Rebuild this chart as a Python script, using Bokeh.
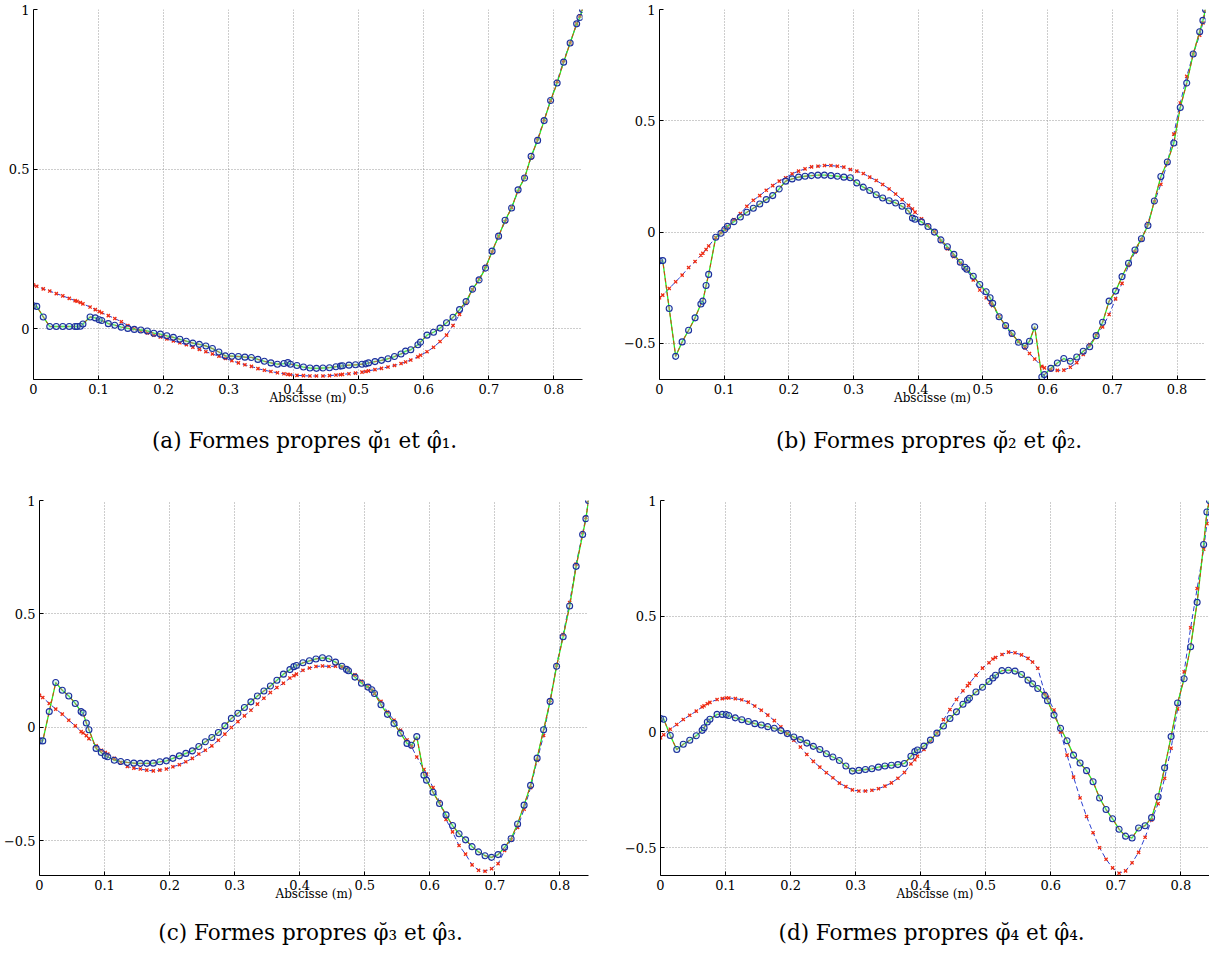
from bokeh.plotting import figure
from bokeh.layouts import column, row
from bokeh.models import FixedTicker, LinearAxis, Range1d
from bokeh.embed import file_html
from bokeh.resources import INLINE

# Shared abscissa (m)
X = [0.000, 0.005, 0.015, 0.025, 0.035, 0.045, 0.055, 0.064, 0.067, 0.072, 0.076, 0.087, 0.095, 0.101, 0.105,
     0.115, 0.125, 0.135, 0.145, 0.155, 0.165, 0.175, 0.185, 0.195, 0.205,
     0.215, 0.225, 0.235, 0.245, 0.255, 0.265, 0.275, 0.285, 0.295, 0.305,
     0.315, 0.325, 0.335, 0.345, 0.355, 0.365, 0.375, 0.385, 0.391, 0.395,
     0.405, 0.415, 0.425, 0.435, 0.445, 0.455, 0.465, 0.472, 0.475, 0.485,
     0.495, 0.505, 0.511, 0.515, 0.525, 0.535, 0.545, 0.555, 0.565, 0.572,
     0.580, 0.591, 0.595, 0.605, 0.615, 0.625, 0.635, 0.645, 0.655, 0.665,
     0.675, 0.685, 0.695, 0.705, 0.715, 0.725, 0.735, 0.745, 0.755, 0.765,
     0.775, 0.785, 0.795, 0.805, 0.815, 0.825, 0.835, 0.840, 0.844]

# (a) measured / model
MEAS_A = [0.072, 0.070, 0.037, 0.007, 0.007, 0.007, 0.007, 0.007, 0.007, 0.008, 0.015, 0.037, 0.034, 0.028, 0.026,
          0.016, 0.011, 0.005, 0.001, -0.002, -0.004, -0.007, -0.014, -0.017, -0.022,
          -0.027, -0.033, -0.039, -0.045, -0.049, -0.054, -0.062, -0.073, -0.085, -0.086,
          -0.087, -0.089, -0.090, -0.096, -0.102, -0.107, -0.111, -0.109, -0.106, -0.111,
          -0.115, -0.120, -0.123, -0.124, -0.123, -0.122, -0.119, -0.117, -0.116, -0.114,
          -0.113, -0.111, -0.110, -0.107, -0.103, -0.099, -0.094, -0.087, -0.079, -0.070,
          -0.066, -0.050, -0.042, -0.020, -0.011, 0.002, 0.019, 0.036, 0.060, 0.085,
          0.124, 0.153, 0.190, 0.243, 0.290, 0.340, 0.378, 0.435, 0.472, 0.540,
          0.590, 0.652, 0.715, 0.770, 0.835, 0.895, 0.955, 0.975, 1.000]
MOD_A = [0.137, 0.133, 0.125, 0.118, 0.110, 0.103, 0.095, 0.088, 0.086, 0.082, 0.078, 0.068, 0.060, 0.054, 0.050,
         0.041, 0.032, 0.022, 0.010, 0.000, -0.008, -0.013, -0.020, -0.026, -0.032,
         -0.038, -0.044, -0.050, -0.058, -0.065, -0.072, -0.079, -0.086, -0.093, -0.100,
         -0.107, -0.113, -0.118, -0.125, -0.130, -0.134, -0.138, -0.141, -0.143, -0.144,
         -0.146, -0.147, -0.148, -0.148, -0.148, -0.147, -0.145, -0.144, -0.143, -0.141,
         -0.139, -0.136, -0.134, -0.132, -0.128, -0.124, -0.120, -0.115, -0.109, -0.104,
         -0.098, -0.088, -0.083, -0.072, -0.058, -0.040, -0.020, 0.010, 0.045, 0.080,
         0.122, 0.155, 0.195, 0.240, 0.290, 0.335, 0.380, 0.430, 0.475, 0.535,
         0.595, 0.655, 0.715, 0.775, 0.840, 0.895, 0.955, 0.980, 1.000]

# (b)
MEAS_B = [-0.129, -0.128, -0.343, -0.558, -0.493, -0.441, -0.385, -0.323, -0.310, -0.240, -0.190, -0.023, -0.005, 0.012, 0.026,
          0.047, 0.068, 0.089, 0.107, 0.126, 0.146, 0.164, 0.194, 0.229, 0.239,
          0.247, 0.251, 0.254, 0.256, 0.256, 0.254, 0.251, 0.247, 0.244, 0.221,
          0.202, 0.187, 0.168, 0.153, 0.141, 0.131, 0.116, 0.095, 0.063, 0.058,
          0.046, 0.025, 0.000, -0.035, -0.066, -0.100, -0.135, -0.158, -0.167, -0.198,
          -0.235, -0.268, -0.295, -0.320, -0.380, -0.420, -0.455, -0.495, -0.512, -0.490,
          -0.425, -0.651, -0.640, -0.612, -0.588, -0.568, -0.580, -0.561, -0.535, -0.515,
          -0.465, -0.405, -0.310, -0.265, -0.200, -0.140, -0.080, -0.030, 0.030, 0.140,
          0.250, 0.315, 0.400, 0.560, 0.670, 0.800, 0.900, 0.951, 1.000]
MOD_B = [-0.295, -0.283, -0.253, -0.223, -0.193, -0.159, -0.132, -0.104, -0.095, -0.078, -0.062, -0.024, -0.003, 0.012, 0.025,
         0.056, 0.083, 0.116, 0.143, 0.164, 0.188, 0.209, 0.229, 0.244, 0.262,
         0.274, 0.284, 0.293, 0.296, 0.299, 0.299, 0.296, 0.292, 0.281, 0.274,
         0.263, 0.247, 0.232, 0.214, 0.194, 0.171, 0.146, 0.120, 0.104, 0.090,
         0.060, 0.030, 0.003, -0.040, -0.075, -0.110, -0.140, -0.160, -0.170, -0.215,
         -0.260, -0.295, -0.315, -0.330, -0.380, -0.425, -0.463, -0.490, -0.520, -0.545,
         -0.570, -0.603, -0.610, -0.619, -0.621, -0.620, -0.607, -0.586, -0.550, -0.505,
         -0.463, -0.426, -0.370, -0.300, -0.230, -0.150, -0.090, -0.035, 0.040, 0.135,
         0.215, 0.310, 0.440, 0.580, 0.700, 0.800, 0.885, 0.940, 0.990]

# (c)
MEAS_C = [-0.059, -0.059, 0.070, 0.198, 0.164, 0.139, 0.106, 0.070, 0.064, 0.020, -0.010, -0.092, -0.110, -0.125, -0.129,
          -0.144, -0.150, -0.154, -0.157, -0.158, -0.158, -0.157, -0.151, -0.147, -0.136,
          -0.125, -0.114, -0.103, -0.084, -0.063, -0.044, -0.022, 0.007, 0.040, 0.063,
          0.088, 0.113, 0.139, 0.161, 0.183, 0.208, 0.235, 0.255, 0.268, 0.273,
          0.285, 0.294, 0.302, 0.307, 0.303, 0.288, 0.270, 0.256, 0.250, 0.222,
          0.195, 0.178, 0.166, 0.150, 0.100, 0.058, 0.018, -0.025, -0.070, -0.078,
          -0.040, -0.210, -0.232, -0.285, -0.335, -0.385, -0.432, -0.468, -0.495, -0.525,
          -0.548, -0.565, -0.572, -0.560, -0.528, -0.490, -0.425, -0.342, -0.255, -0.135,
          -0.010, 0.115, 0.270, 0.400, 0.535, 0.710, 0.850, 0.920, 1.000]
MOD_C = [0.142, 0.132, 0.106, 0.081, 0.059, 0.032, 0.007, -0.018, -0.024, -0.036, -0.049, -0.081, -0.100, -0.110, -0.117,
         -0.136, -0.154, -0.172, -0.179, -0.183, -0.188, -0.191, -0.188, -0.183, -0.173,
         -0.164, -0.151, -0.136, -0.117, -0.100, -0.081, -0.056, -0.029, 0.000, 0.026,
         0.051, 0.076, 0.103, 0.129, 0.154, 0.176, 0.195, 0.218, 0.228, 0.235,
         0.252, 0.262, 0.269, 0.271, 0.269, 0.270, 0.267, 0.258, 0.253, 0.232,
         0.204, 0.180, 0.165, 0.150, 0.115, 0.068, 0.032, -0.012, -0.055, -0.085,
         -0.130, -0.185, -0.205, -0.265, -0.326, -0.405, -0.460, -0.520, -0.558, -0.605,
         -0.629, -0.633, -0.622, -0.600, -0.542, -0.495, -0.440, -0.360, -0.265, -0.145,
         -0.035, 0.120, 0.275, 0.410, 0.550, 0.720, 0.858, 0.925, 1.000]

# (d)
MEAS_D = [0.058, 0.055, -0.015, -0.076, -0.053, -0.036, -0.016, 0.007, 0.018, 0.043, 0.055, 0.076, 0.076, 0.075, 0.071,
          0.061, 0.053, 0.045, 0.036, 0.030, 0.023, 0.016, 0.006, -0.007, -0.022,
          -0.033, -0.048, -0.062, -0.076, -0.094, -0.108, -0.123, -0.147, -0.169, -0.166,
          -0.162, -0.159, -0.152, -0.147, -0.144, -0.141, -0.136, -0.105, -0.085, -0.078,
          -0.061, -0.035, -0.005, 0.026, 0.058, 0.087, 0.120, 0.138, 0.146, 0.173,
          0.193, 0.218, 0.233, 0.245, 0.265, 0.267, 0.263, 0.248, 0.224, 0.208,
          0.188, 0.158, 0.135, 0.073, 0.016, -0.038, -0.100, -0.134, -0.167, -0.215,
          -0.285, -0.335, -0.375, -0.420, -0.450, -0.458, -0.415, -0.405, -0.370, -0.280,
          -0.155, -0.020, 0.125, 0.230, 0.368, 0.560, 0.810, 0.950, 1.000]
MOD_D = [-0.025, -0.012, 0.012, 0.032, 0.054, 0.072, 0.090, 0.108, 0.113, 0.122, 0.128, 0.140, 0.144, 0.147, 0.147,
         0.144, 0.139, 0.129, 0.112, 0.094, 0.073, 0.049, 0.022, -0.007, -0.036,
         -0.065, -0.097, -0.127, -0.152, -0.176, -0.198, -0.221, -0.236, -0.250, -0.255,
         -0.255, -0.252, -0.245, -0.234, -0.220, -0.200, -0.175, -0.138, -0.120, -0.105,
         -0.075, -0.040, -0.005, 0.053, 0.097, 0.140, 0.178, 0.200, 0.210, 0.245,
         0.276, 0.299, 0.315, 0.322, 0.335, 0.345, 0.342, 0.333, 0.318, 0.302,
         0.275, 0.166, 0.150, 0.095, 0.000, -0.100, -0.195, -0.285, -0.365, -0.435,
         -0.500, -0.550, -0.587, -0.610, -0.600, -0.565, -0.520, -0.455, -0.380, -0.310,
         -0.200, -0.070, 0.100, 0.260, 0.450, 0.620, 0.790, 0.900, 0.980]

for arr in (MEAS_A, MOD_A, MEAS_B, MOD_B, MEAS_C, MOD_C, MEAS_D, MOD_D):
    assert len(arr) == len(X), len(arr)

XTICKS = [0.0, 0.1, 0.2, 0.3, 0.4, 0.5, 0.6, 0.7, 0.8]
XTICK_LABELS = ["0", "0.1", "0.2", "0.3", "0.4", "0.5", "0.6", "0.7", "0.8"]
YTICKS_A = [0.0, 0.5, 1.0]
YTICK_LABELS_A = ["0", "0.5", "1"]
YTICKS = [-0.5, 0.0, 0.5, 1.0]
YTICK_LABELS = ["\u22120.5", "0", "0.5", "1"]
YMIN = [-0.159, -0.662, -0.652, -0.62]
XMAX = 0.844
X_LABEL = "Abscisse (m)"
CAPTIONS = [
    "(a)  Formes propres \u03c6\u0306\u2081 et \u03c6\u0302\u2081.",
    "(b)  Formes propres \u03c6\u0306\u2082 et \u03c6\u0302\u2082.",
    "(c)  Formes propres \u03c6\u0306\u2083 et \u03c6\u0302\u2083.",
    "(d)  Formes propres \u03c6\u0306\u2084 et \u03c6\u0302\u2084.",
]

SERIF = "DejaVu Serif"


def panel(meas, mod, ymin, yticks, ylabels, caption, width, height, bl, br, bt, bb, cap_standoff):
    p = figure(width=width, height=height, output_backend="svg", toolbar_location=None,
               x_range=Range1d(0, XMAX), y_range=Range1d(ymin, 1.0),
               min_border_left=bl, min_border_right=br, min_border_top=bt, min_border_bottom=bb,
               background_fill_color="white", border_fill_color="white")
    p.outline_line_color = None
    # model: blue dashed with red crosses
    p.line(X, mod, line_color="#2a3fd0", line_width=1, line_dash="5 3")
    p.scatter(X, mod, marker="x", size=4.5, line_color="#f02a10", line_width=1.3)
    # measured: green solid + red dashed + blue circles
    p.line(X, meas, line_color="#22ee22", line_width=1.3)
    p.line(X, meas, line_color="#e03a10", line_width=1, line_dash="4 3")
    p.scatter(X, meas, marker="circle", size=6, line_color="#1c2e9e", line_width=1.1,
              fill_color="#8fe0cc", fill_alpha=0.3)

    for ax in (p.xaxis[0], p.yaxis[0]):
        ax.axis_line_color = "black"
        ax.axis_line_width = 1
        ax.major_tick_in = 4
        ax.major_tick_out = 0
        ax.minor_tick_line_color = None
        ax.major_tick_line_color = "black"
        ax.major_label_text_font = SERIF
        ax.major_label_text_font_size = "13px"
        ax.major_label_text_color = "black"
        ax.major_label_standoff = 4
    p.xaxis.ticker = FixedTicker(ticks=XTICKS)
    p.xaxis.major_label_overrides = dict(zip(XTICKS, XTICK_LABELS))
    p.yaxis.ticker = FixedTicker(ticks=yticks)
    p.yaxis.major_label_overrides = dict(zip(yticks, ylabels))
    p.xaxis.axis_label = X_LABEL
    p.xaxis.axis_label_text_font = SERIF
    p.xaxis.axis_label_text_font_size = "12px"
    p.xaxis.axis_label_text_font_style = "normal"
    p.xaxis.axis_label_text_color = "black"
    p.xaxis.axis_label_standoff = -6

    p.xgrid.ticker = FixedTicker(ticks=XTICKS)
    p.ygrid.ticker = FixedTicker(ticks=yticks)
    for g in (p.xgrid[0], p.ygrid[0]):
        g.grid_line_color = "#9a9a9a"
        g.grid_line_dash = "1 2"
        g.grid_line_width = 1

    # caption: a bare axis (no line, no ticks) whose label is the sub-figure caption
    cap = LinearAxis(ticker=FixedTicker(ticks=[]), axis_label=caption,
                     axis_line_color=None, major_tick_line_color=None, minor_tick_line_color=None,
                     major_tick_in=0, major_tick_out=0, minor_tick_in=0, minor_tick_out=0,
                     major_label_standoff=0,
                     axis_label_text_font=SERIF, axis_label_text_font_size="21.5px",
                     axis_label_text_font_style="normal", axis_label_text_color="black",
                     axis_label_standoff=cap_standoff)
    p.add_layout(cap, "below")
    return p


# top row: frame y 9..379 ; bottom row: frame y 500..875
pa = panel(MEAS_A, MOD_A, YMIN[0], YTICKS_A, YTICK_LABELS_A, CAPTIONS[0], 620, 482, 33, 38, 9, 103, 20)
pb = panel(MEAS_B, MOD_B, YMIN[1], YTICKS, YTICK_LABELS, CAPTIONS[1], 589, 482, 39, 4, 9, 103, 20)
pc = panel(MEAS_C, MOD_C, YMIN[2], YTICKS, YTICK_LABELS, CAPTIONS[2], 620, 472, 39, 32, 18, 79, 16)
pd = panel(MEAS_D, MOD_D, YMIN[3], YTICKS, YTICK_LABELS, CAPTIONS[3], 589, 472, 40, 0, 18, 79, 16)

layout = column(row(pa, pb), row(pc, pd))
open("out.html", "w").write(file_html(layout, INLINE))
